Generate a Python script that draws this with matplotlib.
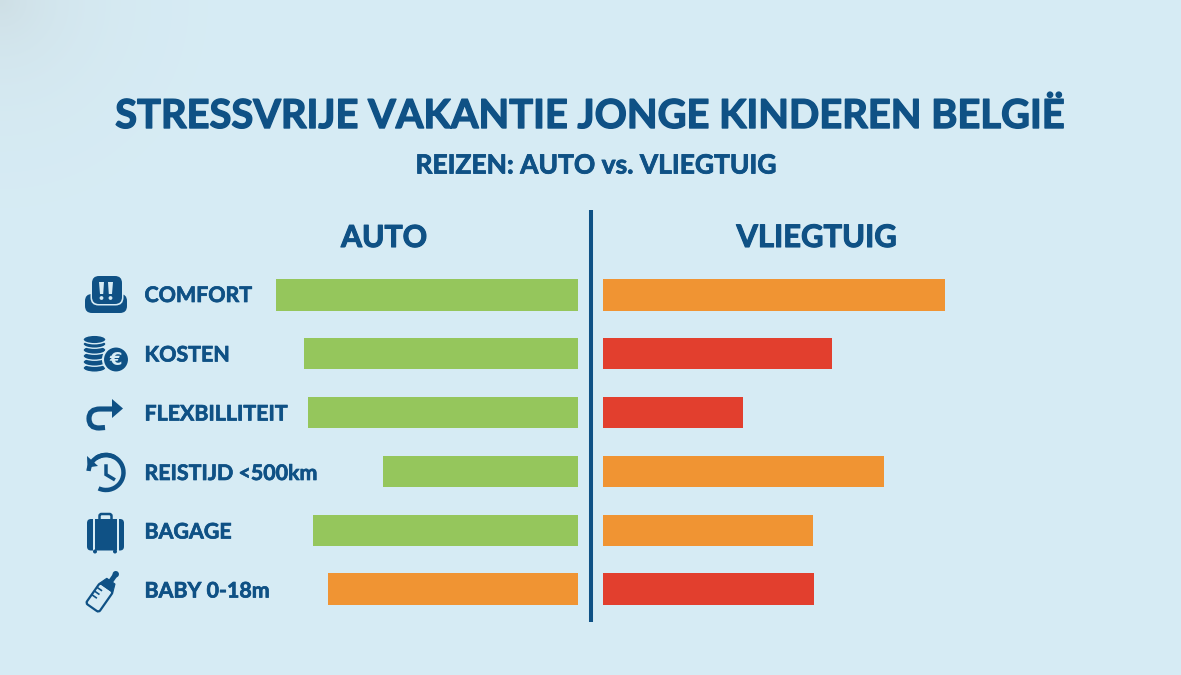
import numpy as np
import matplotlib
matplotlib.use("Agg")
import matplotlib.pyplot as plt
import matplotlib.patheffects as pe
from matplotlib.patches import FancyBboxPatch, Circle, Ellipse, Arc, Polygon, Rectangle, PathPatch
from matplotlib.path import Path
from matplotlib.transforms import Affine2D

# Scores per travel criterion, top to bottom
categories = ["COMFORT", "KOSTEN", "FLEXBILLITEIT", "REISTIJD <500km", "BAGAGE", "BABY 0-18m"]
auto_scores = [86.3, 78.3, 77.2, 55.7, 75.7, 71.4]
plane_scores = [97.7, 65.4, 40.0, 80.3, 60.0, 60.3]

GREEN, ORANGE, RED = "#95c65c", "#f09433", "#e23f2e"
auto_colors = [GREEN, GREEN, GREEN, GREEN, GREEN, ORANGE]
plane_colors = [ORANGE, RED, RED, ORANGE, ORANGE, RED]

NAVY = "#0f5185"
FONT = ["Lato", "DejaVu Sans"]
W, H = 1181, 675

fig = plt.figure(figsize=(W / 100, H / 100), dpi=100)

# Soft backdrop with a slightly muted upper-left corner
bg = fig.add_axes([0, 0, 1, 1], zorder=0)
yy, xx = np.mgrid[0:H:4, 0:W:4]
corner = np.exp(-np.hypot(xx, yy) / 70.0)[..., None]
base = np.array([0.842, 0.925, 0.960])
tint = np.array([0.81, 0.875, 0.90])
bg.imshow(base * (1 - corner) + tint * corner, extent=(0, W, H, 0), aspect="auto", interpolation="bilinear")
bg.axis("off")


def px_axes(left, top, width, height):
    return fig.add_axes([left / W, 1 - (top + height) / H, width / W, height / H], zorder=1)


# Bar panels share one scale: 100 units span 350 px
y_pos = np.arange(len(categories))
ax_auto = px_axes(228, 265.6, 350, 352.8)
ax_plane = px_axes(603, 265.6, 350, 352.8)
for ax, vals, cols in ((ax_auto, auto_scores, auto_colors), (ax_plane, plane_scores, plane_colors)):
    ax.barh(y_pos, vals, height=0.53, color=cols)
    ax.set_ylim(len(categories) - 0.5, -0.5)
    ax.axis("off")
ax_auto.set_xlim(100, 0)
ax_plane.set_xlim(0, 100)

# Overlay in pixel units for titles, divider, labels and icons
ov = fig.add_axes([0, 0, 1, 1], zorder=2)
ov.set_xlim(0, W)
ov.set_ylim(H, 0)
ov.axis("off")
ov.patch.set_alpha(0)


def heading(x, y, text, size, ha="center", stroke=0.7):
    ov.text(x, y, text, ha=ha, va="center", fontsize=size, fontweight="bold", color=NAVY, family=FONT,
            path_effects=[pe.withStroke(linewidth=stroke, foreground=NAVY)])


heading(591, 116.5, "STRESSVRIJE VAKANTIE JONGE KINDEREN BELGIË", 28.7, stroke=1.0)
heading(595.5, 165.5, "REIZEN: AUTO vs. VLIEGTUIG", 19, stroke=0.6)
heading(384, 238, "AUTO", 21.8, stroke=0.8)
heading(816.5, 238, "VLIEGTUIG", 22.3, stroke=0.8)
ov.plot([590.5, 590.5], [210, 622], color=NAVY, lw=2.9, solid_capstyle="butt")

label_rows = [296, 355.5, 414.5, 474, 532.5, 591.5]
for label, row in zip(categories, label_rows):
    heading(144.5, row, label, 15.4, ha="left", stroke=0.5)


def rounded(x, y, w, h, r, **kw):
    kw.setdefault("fc", NAVY)
    kw.setdefault("ec", "none")
    p = FancyBboxPatch((x + r, y + r), w - 2 * r, h - 2 * r, boxstyle=f"round,pad={r}", **kw)
    ov.add_patch(p)
    return p


BG = "#d7ecf5"

# Child seat: wide base, outlined headrest, two warning marks
rounded(85, 294, 42, 19, 7)
rounded(90.5, 274.5, 33, 31, 8, fc=BG)
rounded(92, 276, 30, 28, 7)
ov.add_patch(Polygon([[99, 282], [104, 282], [103.2, 294], [100, 294]], fc=BG, ec="none"))
ov.add_patch(Polygon([[108, 282], [113, 282], [112, 294], [108.8, 294]], fc=BG, ec="none"))
ov.add_patch(Circle((101.5, 298), 1.9, fc=BG, ec="none"))
ov.add_patch(Circle((110.5, 298), 1.9, fc=BG, ec="none"))

# Coin stack with euro coin
for cy in (368, 362, 356, 350, 344, 339.5):
    ov.add_patch(Ellipse((94.5, cy), 23, 8.5, fc=NAVY, ec=BG, lw=1, zorder=3))
ov.add_patch(Circle((116, 359.5), 13, fc=NAVY, ec=BG, lw=1.5, zorder=4))
ov.text(116, 360, "€", ha="center", va="center", fontsize=13, fontweight="bold",
        color=BG, family=["DejaVu Sans"], zorder=5)

# Turn arrow
turn = Path([(113, 409), (100, 409), (89, 409), (89, 418.5), (89, 428), (99, 428), (105, 427.5)],
            [Path.MOVETO, Path.LINETO, Path.CURVE3, Path.CURVE3, Path.CURVE3, Path.CURVE3, Path.LINETO])
ov.add_patch(PathPatch(turn, fc="none", ec=NAVY, lw=3.7, capstyle="butt"))
ov.add_patch(Polygon([[112, 399], [123, 408.5], [112, 418]], fc=NAVY, ec="none"))

# Clock with counter-clockwise arrow
ov.add_patch(Arc((106, 472.5), 35, 35, theta1=-175, theta2=-125 + 360 - 360 + 360 - 120, ec=NAVY, lw=3.2))
ov.add_patch(Arc((106, 472.5), 35, 35, theta1=-125, theta2=-60, ec=NAVY, lw=3.2))
ov.add_patch(Polygon([[87, 456], [98, 466], [87.5, 467.5]], fc=NAVY, ec="none"))
ov.plot([106, 106, 113.5], [466, 474.5, 479], color=NAVY, lw=2.5, solid_joinstyle="miter")

# Suitcase
rounded(87, 519, 37, 31.5, 4)
rounded(99.5, 514, 12, 8, 2, fc="none", ec=NAVY, lw=1.8)
ov.add_patch(Rectangle((92.5, 519), 2, 31.5, fc=BG, ec="none"))
ov.add_patch(Rectangle((116.5, 519), 2, 31.5, fc=BG, ec="none"))
ov.add_patch(Circle((95, 551.5), 2, fc=NAVY, ec="none"))
ov.add_patch(Circle((115, 551.5), 2, fc=NAVY, ec="none"))

# Baby bottle, tilted
rot = Affine2D().rotate_deg_around(104, 591, 35) + ov.transData
ov.add_patch(FancyBboxPatch((98.5, 589), 11, 20, boxstyle="round,pad=2.5", fc="none", ec=NAVY, lw=1.6, transform=rot))
ov.add_patch(Polygon([[96, 587], [112, 587], [109, 579], [99, 579]], fc=NAVY, ec=NAVY, lw=0.8, transform=rot))
ov.add_patch(Rectangle((101.5, 571), 5, 9, fc=NAVY, ec="none", transform=rot))
ov.add_patch(Circle((104, 570.5), 3.2, fc=NAVY, ec="none", transform=rot))
for ty in (592, 596.5, 601):
    ov.plot([96.5, 101.5], [ty, ty], color=NAVY, lw=1.2, transform=rot)

fig.savefig("out.png", dpi=100)
